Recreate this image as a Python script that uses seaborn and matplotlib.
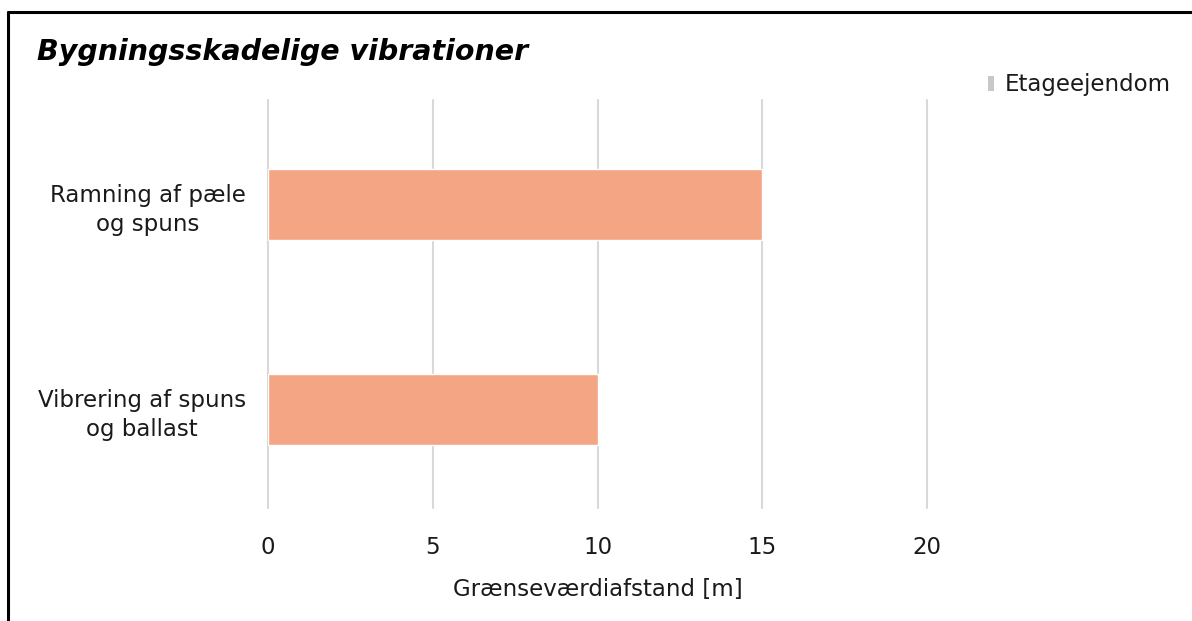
import pandas as pd
import matplotlib.pyplot as plt
import seaborn as sns
from matplotlib.patches import Patch
from matplotlib.lines import Line2D

# Data
categories = ['Ramning af pæle\nog spuns', 'Vibrering af spuns\nog ballast']
afstand = [15, 10]
serie = 'Etageejendom'

df = pd.DataFrame({'Aktivitet': categories, 'Afstand': afstand})

sns.set_style('white')
plt.rcParams['font.family'] = ['DejaVu Sans']

fig = plt.figure(figsize=(11.92, 6.21), dpi=100)
ax = fig.add_axes([268 / 1192, 1 - 508 / 621, (927 - 268) / 1192, (508 - 100) / 621])

sns.barplot(data=df, x='Afstand', y='Aktivitet', color='#F4A584', width=0.35,
            saturation=1, ax=ax)

fs = 16.5
txt = '#1a1a1a'
ax.set_xlim(0, 20)
ax.set_ylim(1.48, -0.51)
ax.set_xticks([0, 5, 10, 15, 20])
ax.grid(axis='x', color='#d9d9d9', linewidth=1.5)
for gl in ax.get_xgridlines():
    gl.set_clip_on(False)
ax.set_axisbelow(True)
for s in ax.spines.values():
    s.set_visible(False)
ax.tick_params(axis='x', labelsize=fs, pad=20, length=0, colors=txt)
ax.tick_params(axis='y', labelsize=fs, pad=16, length=0, colors=txt)
for lbl in ax.get_yticklabels():
    lbl.set_multialignment('center')
    lbl.set_linespacing(1.35)
ax.set_ylabel('')
ax.set_xlabel('Grænseværdiafstand [m]', fontsize=fs, labelpad=14, color=txt)

fig.text(37 / 1192, 1 - 52 / 621, 'Bygningsskadelige vibrationer', fontsize=20.5,
         fontweight='bold', fontstyle='italic', va='center', ha='left', color='black')

handle = Patch(facecolor='#c8c8c8', edgecolor='none')
fig.legend([handle], [serie], loc='center left', bbox_to_anchor=(977 / 1192, 1 - 85 / 621),
           frameon=False, fontsize=fs, handlelength=0.25, handleheight=0.6,
           handletextpad=0.45, borderpad=0, labelcolor=txt)

# black frame around the chart
fig.add_artist(Line2D([8 / 1192, 8 / 1192], [0, 1 - 12 / 621], color='black', lw=2.2,
                      transform=fig.transFigure))
fig.add_artist(Line2D([8 / 1192, 1], [1 - 12 / 621, 1 - 12 / 621], color='black', lw=2.2,
                      transform=fig.transFigure))

plt.savefig('out.png', dpi=100)
